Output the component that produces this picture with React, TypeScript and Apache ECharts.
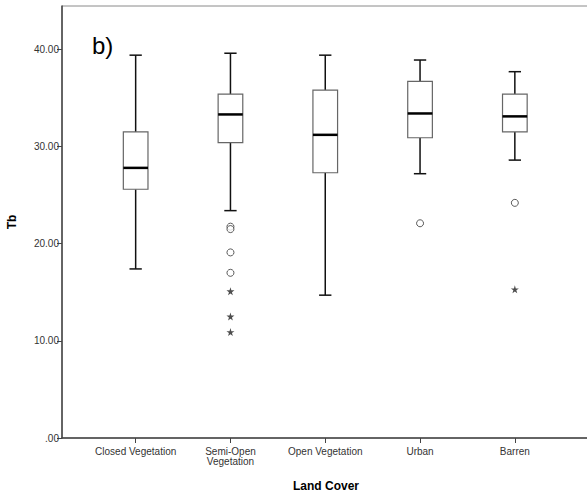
import React, { useEffect, useRef } from "react";
import * as echarts from "echarts";

// Land cover classes along the x axis
const categories = ["Closed Vegetation", "Semi-Open\nVegetation", "Open Vegetation", "Urban", "Barren"];

// Five-number summaries of Tb for each class
const lowerWhisker = [17.4, 23.4, 14.7, 27.2, 28.6];
const q1 = [25.6, 30.4, 27.3, 30.9, 31.5];
const median = [27.8, 33.3, 31.2, 33.4, 33.1];
const q3 = [31.5, 35.4, 35.8, 36.7, 35.4];
const upperWhisker = [39.4, 39.6, 39.4, 38.9, 37.7];

// Outliers (circles) and extreme values (stars): [class index, Tb]
const outliers: [number, number][] = [
  [1, 21.75],
  [1, 21.5],
  [1, 19.1],
  [1, 17.0],
  [3, 22.1],
  [4, 24.2],
];
const extremes: [number, number][] = [
  [1, 15.1],
  [1, 12.5],
  [1, 10.9],
  [4, 15.3],
];

const yTicks = [0, 10, 20, 30, 40];
const xTicks = [0, 1, 2, 3, 4];

const FONT = "Arial, 'Liberation Sans', sans-serif";
const STAR =
  "path://M50,0 L61,35 L98,35 L68,57 L79,91 L50,70 L21,91 L32,57 L2,35 L39,35 Z";

export default function App() {
  const ref = useRef<HTMLDivElement>(null);

  useEffect(() => {
    if (!ref.current) return;
    const chart = echarts.init(ref.current, null, { renderer: "svg" });

    const boxData = categories.map((_, i) => [
      i,
      lowerWhisker[i],
      q1[i],
      median[i],
      q3[i],
      upperWhisker[i],
    ]);

    const renderBox = (params: any, api: any) => {
      const x = api.value(0);
      const lo = api.coord([x, api.value(1)]);
      const b1 = api.coord([x, api.value(2)]);
      const md = api.coord([x, api.value(3)]);
      const b3 = api.coord([x, api.value(4)]);
      const hi = api.coord([x, api.value(5)]);
      const boxW = api.size([0.26, 0])[0];
      const capW = api.size([0.13, 0])[0];
      const cx = lo[0];
      const whisker = { stroke: "#111", lineWidth: 1.5 };
      return {
        type: "group",
        children: [
          { type: "line", shape: { x1: cx, y1: hi[1], x2: cx, y2: b3[1] }, style: whisker },
          { type: "line", shape: { x1: cx, y1: b1[1], x2: cx, y2: lo[1] }, style: whisker },
          { type: "line", shape: { x1: cx - capW / 2, y1: hi[1], x2: cx + capW / 2, y2: hi[1] }, style: whisker },
          { type: "line", shape: { x1: cx - capW / 2, y1: lo[1], x2: cx + capW / 2, y2: lo[1] }, style: whisker },
          {
            type: "rect",
            shape: { x: cx - boxW / 2, y: b3[1], width: boxW, height: b1[1] - b3[1] },
            style: { fill: "#fff", stroke: "#666", lineWidth: 1.2 },
          },
          {
            type: "line",
            shape: { x1: cx - boxW / 2, y1: md[1], x2: cx + boxW / 2, y2: md[1] },
            style: { stroke: "#000", lineWidth: 2.5 },
          },
        ],
      };
    };

    chart.setOption({
      animation: false,
      backgroundColor: "#fff",
      grid: {
        left: 62,
        top: 6,
        width: 532,
        height: 432,
        outerBoundsMode: "none",
        containLabel: false,
        show: true,
        borderColor: "#8a8a8a",
        borderWidth: 1,
        backgroundColor: "#fff",
      },
      graphic: [
        {
          type: "text",
          left: 92,
          top: 33,
          style: { text: "b)", fontSize: 24, fontFamily: FONT, fill: "#000" },
        },
        {
          type: "text",
          x: 326,
          y: 486,
          style: {
            text: "Land Cover",
            fontSize: 12,
            fontWeight: "bold",
            fontFamily: FONT,
            fill: "#000",
            align: "center",
            verticalAlign: "middle",
          },
        },
      ],
      xAxis: {
        type: "value",
        min: -0.777,
        max: 4.835,
        splitLine: { show: false },
        axisLine: { show: true, onZero: false, lineStyle: { color: "#444", width: 1.5 } },
        axisTick: {
          show: true,
          length: 5,
          customValues: xTicks,
          lineStyle: { color: "#444", width: 1 },
        },
        axisLabel: {
          customValues: xTicks,
          margin: 8,
          fontSize: 10,
          lineHeight: 10,
          fontFamily: FONT,
          color: "#333",
          formatter: (v: number) => categories[Math.round(v)] ?? "",
        },
      },
      yAxis: {
        type: "value",
        min: 0,
        max: 44.46,
        name: "Tb",
        nameLocation: "middle",
        nameGap: 44,
        nameTextStyle: { fontSize: 12, fontWeight: "bold", fontFamily: FONT, color: "#000" },
        splitLine: { show: false },
        axisLine: { show: true, onZero: false, lineStyle: { color: "#444", width: 1.5 } },
        axisTick: {
          show: true,
          length: 5,
          customValues: yTicks,
          lineStyle: { color: "#444", width: 1 },
        },
        axisLabel: {
          customValues: yTicks,
          margin: 3,
          fontSize: 10,
          fontFamily: FONT,
          color: "#333",
          formatter: (v: number) => (v === 0 ? ".00" : v.toFixed(2)),
        },
      },
      series: [
        {
          type: "custom",
          renderItem: renderBox,
          data: boxData,
          encode: { x: 0, y: [1, 2, 3, 4, 5] },
          z: 2,
        },
        {
          type: "scatter",
          data: outliers,
          symbol: "circle",
          symbolSize: 7,
          itemStyle: { color: "#fff", borderColor: "#333", borderWidth: 1 },
          z: 3,
        },
        {
          type: "scatter",
          data: extremes,
          symbol: STAR,
          symbolSize: 8,
          itemStyle: { color: "#222" },
          z: 3,
        },
      ],
    });

    return () => chart.dispose();
  }, []);

  return (
    <div
      ref={ref}
      style={{ position: "fixed", left: 0, top: 0, width: 587, height: 499, background: "#fff" }}
    />
  );
}
